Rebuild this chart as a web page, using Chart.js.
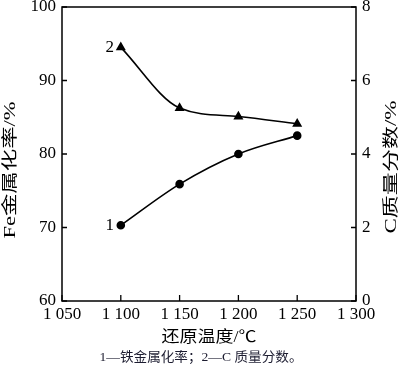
<!DOCTYPE html>
<html>
<head>
<meta charset="utf-8">
<script src="https://cdn.jsdelivr.net/npm/chart.js@4"></script>
<style>
  html, body { margin: 0; padding: 0; background: #fff; }
  #wrap { width: 400px; height: 370px; position: relative; }
</style>
</head>
<body>
<div id="wrap"><canvas id="c" width="400" height="370"></canvas></div>
<script>
// Data
const temperatures = [1100, 1150, 1200, 1250];
const feMetallization = [70.3, 75.9, 80.0, 82.5];   // left axis, %
const carbonContent = [6.9, 5.25, 5.02, 4.82];      // right axis, %
const xTicks = [1050, 1100, 1150, 1200, 1250, 1300];
const leftTicks = [60, 70, 80, 90, 100];
const rightTicks = [0, 2, 4, 6, 8];
const seriesLabels = ['1', '2'];
const leftTitle = 'Fe金属化率/%';
const rightTitle = 'C质量分数/%';
const xTitle = '还原温度/℃';
const caption = '1—铁金属化率；2—C 质量分数。';

const SERIF = '"Liberation Serif", "DejaVu Serif", serif';
const CJK = '"Liberation Serif", "Noto Sans CJK SC", serif';

function fmtX(v) {
  const s = String(v);
  return s.length > 3 ? s.slice(0, s.length - 3) + ' ' + s.slice(-3) : s;
}

function drawStretched(ctx, text, cx, cy, targetLen, rot, font, color) {
  ctx.save();
  ctx.font = font;
  ctx.fillStyle = color;
  ctx.textAlign = 'center';
  ctx.textBaseline = 'middle';
  const w = ctx.measureText(text).width;
  const sx = targetLen / w;
  ctx.translate(cx, cy);
  ctx.rotate(rot);
  ctx.scale(sx, 1);
  ctx.fillText(text, 0, 0);
  ctx.restore();
}

const decorPlugin = {
  id: 'decor',
  afterDatasetsDraw(chart) {
    const ctx = chart.ctx;
    const a = chart.chartArea;
    const sx = chart.scales.x, sy = chart.scales.y, sy2 = chart.scales.y2;
    ctx.save();
    ctx.strokeStyle = '#000';
    ctx.lineWidth = 1.5;
    ctx.strokeRect(a.left, a.top, a.right - a.left, a.bottom - a.top);
    ctx.lineWidth = 1.3;
    ctx.beginPath();
    xTicks.forEach(v => {
      const x = sx.getPixelForValue(v);
      ctx.moveTo(x, a.bottom); ctx.lineTo(x, a.bottom - 6);
    });
    leftTicks.forEach(v => {
      const y = sy.getPixelForValue(v);
      ctx.moveTo(a.left, y); ctx.lineTo(a.left + 5, y);
    });
    rightTicks.forEach(v => {
      const y = sy2.getPixelForValue(v);
      ctx.moveTo(a.right, y); ctx.lineTo(a.right - 5, y);
    });
    ctx.stroke();

    // series number labels beside first points
    ctx.fillStyle = '#000';
    ctx.font = '17px ' + SERIF;
    ctx.textAlign = 'center';
    ctx.textBaseline = 'middle';
    chart.data.datasets.forEach((ds, i) => {
      const p = chart.getDatasetMeta(i).data[0];
      ctx.fillText(seriesLabels[i], p.x - 11, p.y);
    });
    ctx.restore();

    // axis titles
    const midY = (a.top + a.bottom) / 2;
    drawStretched(ctx, leftTitle, 11, midY + 16, 137, -Math.PI / 2, '16px ' + CJK, '#000');
    drawStretched(ctx, rightTitle, 392, midY + 13, 133, -Math.PI / 2, '16px ' + CJK, '#000');
    drawStretched(ctx, xTitle, (a.left + a.right) / 2, 338, 95, 0, '16px ' + CJK, '#000');
    drawStretched(ctx, caption, 201, 358, 203, 0, '13px ' + CJK, '#1c1c30');
  }
};

new Chart(document.getElementById('c'), {
  type: 'line',
  data: {
    labels: temperatures,
    datasets: [
      {
        data: temperatures.map((t, i) => ({ x: t, y: feMetallization[i] })),
        yAxisID: 'y',
        borderColor: '#000',
        backgroundColor: '#000',
        borderWidth: 1.6,
        pointStyle: 'circle',
        pointRadius: 3.5,
        cubicInterpolationMode: 'monotone',
        fill: false
      },
      {
        data: temperatures.map((t, i) => ({ x: t, y: carbonContent[i] })),
        yAxisID: 'y2',
        borderColor: '#000',
        backgroundColor: '#000',
        borderWidth: 1.6,
        pointStyle: 'triangle',
        pointRadius: 4.2,
        cubicInterpolationMode: 'monotone',
        fill: false
      }
    ]
  },
  options: {
    responsive: false,
    animation: false,
    devicePixelRatio: 1,
    layout: { padding: { top: 7, left: 0, right: 0, bottom: 0 } },
    plugins: { legend: { display: false }, tooltip: { enabled: false } },
    scales: {
      x: {
        type: 'linear',
        min: 1050, max: 1300,
        afterBuildTicks: s => { s.ticks = xTicks.map(v => ({ value: v })); },
        grid: { display: false, drawTicks: false },
        border: { display: false },
        ticks: { color: '#000', font: { family: SERIF, size: 17 }, padding: 3, maxRotation: 0, autoSkip: false, callback: v => fmtX(v) },
        afterFit: s => { s.height = 69; s.paddingLeft = 0; s.paddingRight = 0; }
      },
      y: {
        position: 'left',
        min: 60, max: 100,
        afterBuildTicks: s => { s.ticks = leftTicks.map(v => ({ value: v })); },
        grid: { display: false, drawTicks: false },
        border: { display: false },
        ticks: { color: '#000', font: { family: SERIF, size: 17 }, padding: 6, autoSkip: false },
        afterFit: s => { s.width = 62; s.paddingTop = 0; s.paddingBottom = 0; }
      },
      y2: {
        position: 'right',
        min: 0, max: 8,
        afterBuildTicks: s => { s.ticks = rightTicks.map(v => ({ value: v })); },
        grid: { display: false, drawTicks: false },
        border: { display: false },
        ticks: { color: '#000', font: { family: SERIF, size: 17 }, padding: 6, autoSkip: false },
        afterFit: s => { s.width = 44; s.paddingTop = 0; s.paddingBottom = 0; }
      }
    }
  },
  plugins: [decorPlugin]
});
</script>
</body>
</html>
